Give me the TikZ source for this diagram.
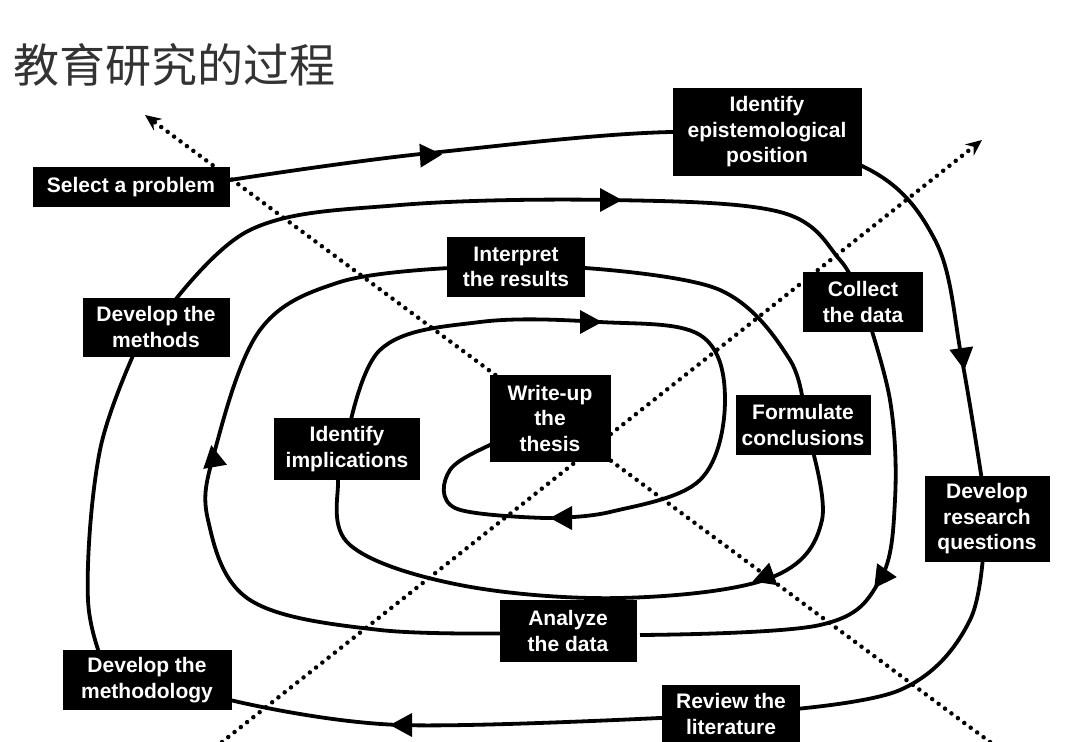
\documentclass[tikz,border=0pt]{standalone}
\usepackage{fontspec}
\setmainfont{Liberation Sans}
\newfontfamily\cjk{Noto Sans CJK SC}
\usetikzlibrary{arrows.meta}
\begin{document}
\begin{tikzpicture}[x=1pt,y=-1pt,
 box/.style={fill=black,text=white,align=center,inner sep=1pt,font=\fontsize{21}{25.5}\selectfont\bfseries},
 sp/.style={line width=3.8pt,black},
 pics/arr/.style={code={\fill (10,0)--(-12,12)--(-12,-12)--cycle;}},
 dot/.style={line width=4.5pt,line cap=round,dash pattern=on 0pt off 8pt,-{Stealth[length=16pt,width=14pt]}}]
\useasboundingbox (0,0) rectangle (1080,742);
\fill[white] (0,0) rectangle (1080,742);
\node[anchor=west,font=\cjk\fontsize{46}{50}\selectfont,text=black!80] (title) at (10,65) {教育研究的过程};
% spiral
\draw[sp] plot[smooth,tension=0.6] coordinates {(230,180) (430,153) (700,132) (860,165) (935,240) (962,360) (985,500)};
\draw[sp] plot[smooth,tension=0.6] coordinates {(985,520) (970,620) (900,690) (760,712)};
\draw[sp] plot[smooth,tension=0.6] coordinates {(700,716) (400,725) (230,700)};
\draw[sp] plot[smooth,tension=0.6] coordinates {(110,680) (88,600) (100,450) (140,340)};
\draw[sp] plot[smooth,tension=0.6] coordinates {(160,320) (250,230) (400,205) (610,200) (780,212) (840,260) (860,300)};
\draw[sp] plot[smooth,tension=0.6] coordinates {(862,300) (890,400) (895,500) (880,580) (820,625) (640,635)};
\draw[sp] plot[smooth,tension=0.6] coordinates {(540,633) (380,630) (250,600) (208,520) (215,450) (260,330) (340,282) (450,268)};
\draw[sp] plot[smooth,tension=0.6] coordinates {(585,268) (720,290) (790,360) (805,424)};
\draw[sp] plot[smooth,tension=0.6] coordinates {(805,424) (822,520) (770,578) (620,598) (460,585) (350,545) (338,480) (345,449)};
\draw[sp] plot[smooth,tension=0.6] coordinates {(345,449) (380,350) (480,322) (600,322) (700,335) (725,400) (700,480) (610,512) (545,518)};
\draw[sp] plot[smooth,tension=0.6] coordinates {(545,518) (455,508) (450,470) (500,440) (550,418)};
% arrowheads
\pic[rotate=3] at (432,155) {arr};
\pic[rotate=-82] at (963,360) {arr};
\pic[rotate=180] at (400,725) {arr};
\pic[rotate=0] at (612,200) {arr};
\pic[rotate=-125] at (880,580) {arr};
\pic[rotate=-160] at (762,578) {arr};
\pic[rotate=100] at (213,455) {arr};
\pic[rotate=0] at (592,322) {arr};
\pic[rotate=180] at (560,518) {arr};
% dotted axes
\coordinate (a1) at (145,115); \coordinate (a2) at (990,742);
\coordinate (b1) at (982,140); \coordinate (b2) at (222,742);
\draw[dot] (a2) -- (a1);
\draw[dot] (b2) -- (b1);
% boxes
\node[box,minimum width=197pt,minimum height=40pt] (n1) at (131,187) {Select a problem};
\node[box,minimum width=189pt,minimum height=88pt] (n2) at (767,132) {Identify\\epistemological\\position};
\node[box,minimum width=120pt,minimum height=60pt] (n3) at (863,302) {Collect\\the data};
\node[box,minimum width=147pt,minimum height=59pt] (n4) at (156,327) {Develop the\\methods};
\node[box,minimum width=138pt,minimum height=60pt] (n5) at (516,267) {Interpret\\the results};
\node[box,minimum width=121pt,minimum height=87pt] (n6) at (550,418) {Write-up\\the\\thesis};
\node[box,minimum width=135pt,minimum height=60pt] (n7) at (803,425) {Formulate\\conclusions};
\node[box,minimum width=146pt,minimum height=62pt] (n8) at (347,449) {Identify\\implications};
\node[box,minimum width=125pt,minimum height=86pt] (n9) at (987,519) {Develop\\research\\questions};
\node[box,minimum width=137pt,minimum height=62pt] (n10) at (568,631) {Analyze\\the data};
\node[box,minimum width=169pt,minimum height=60pt] (n11) at (147,680) {Develop the\\methodology};
\node[box,minimum width=138pt,minimum height=58pt] (n12) at (731,714) {Review the\\literature};
\end{tikzpicture}
\end{document}
